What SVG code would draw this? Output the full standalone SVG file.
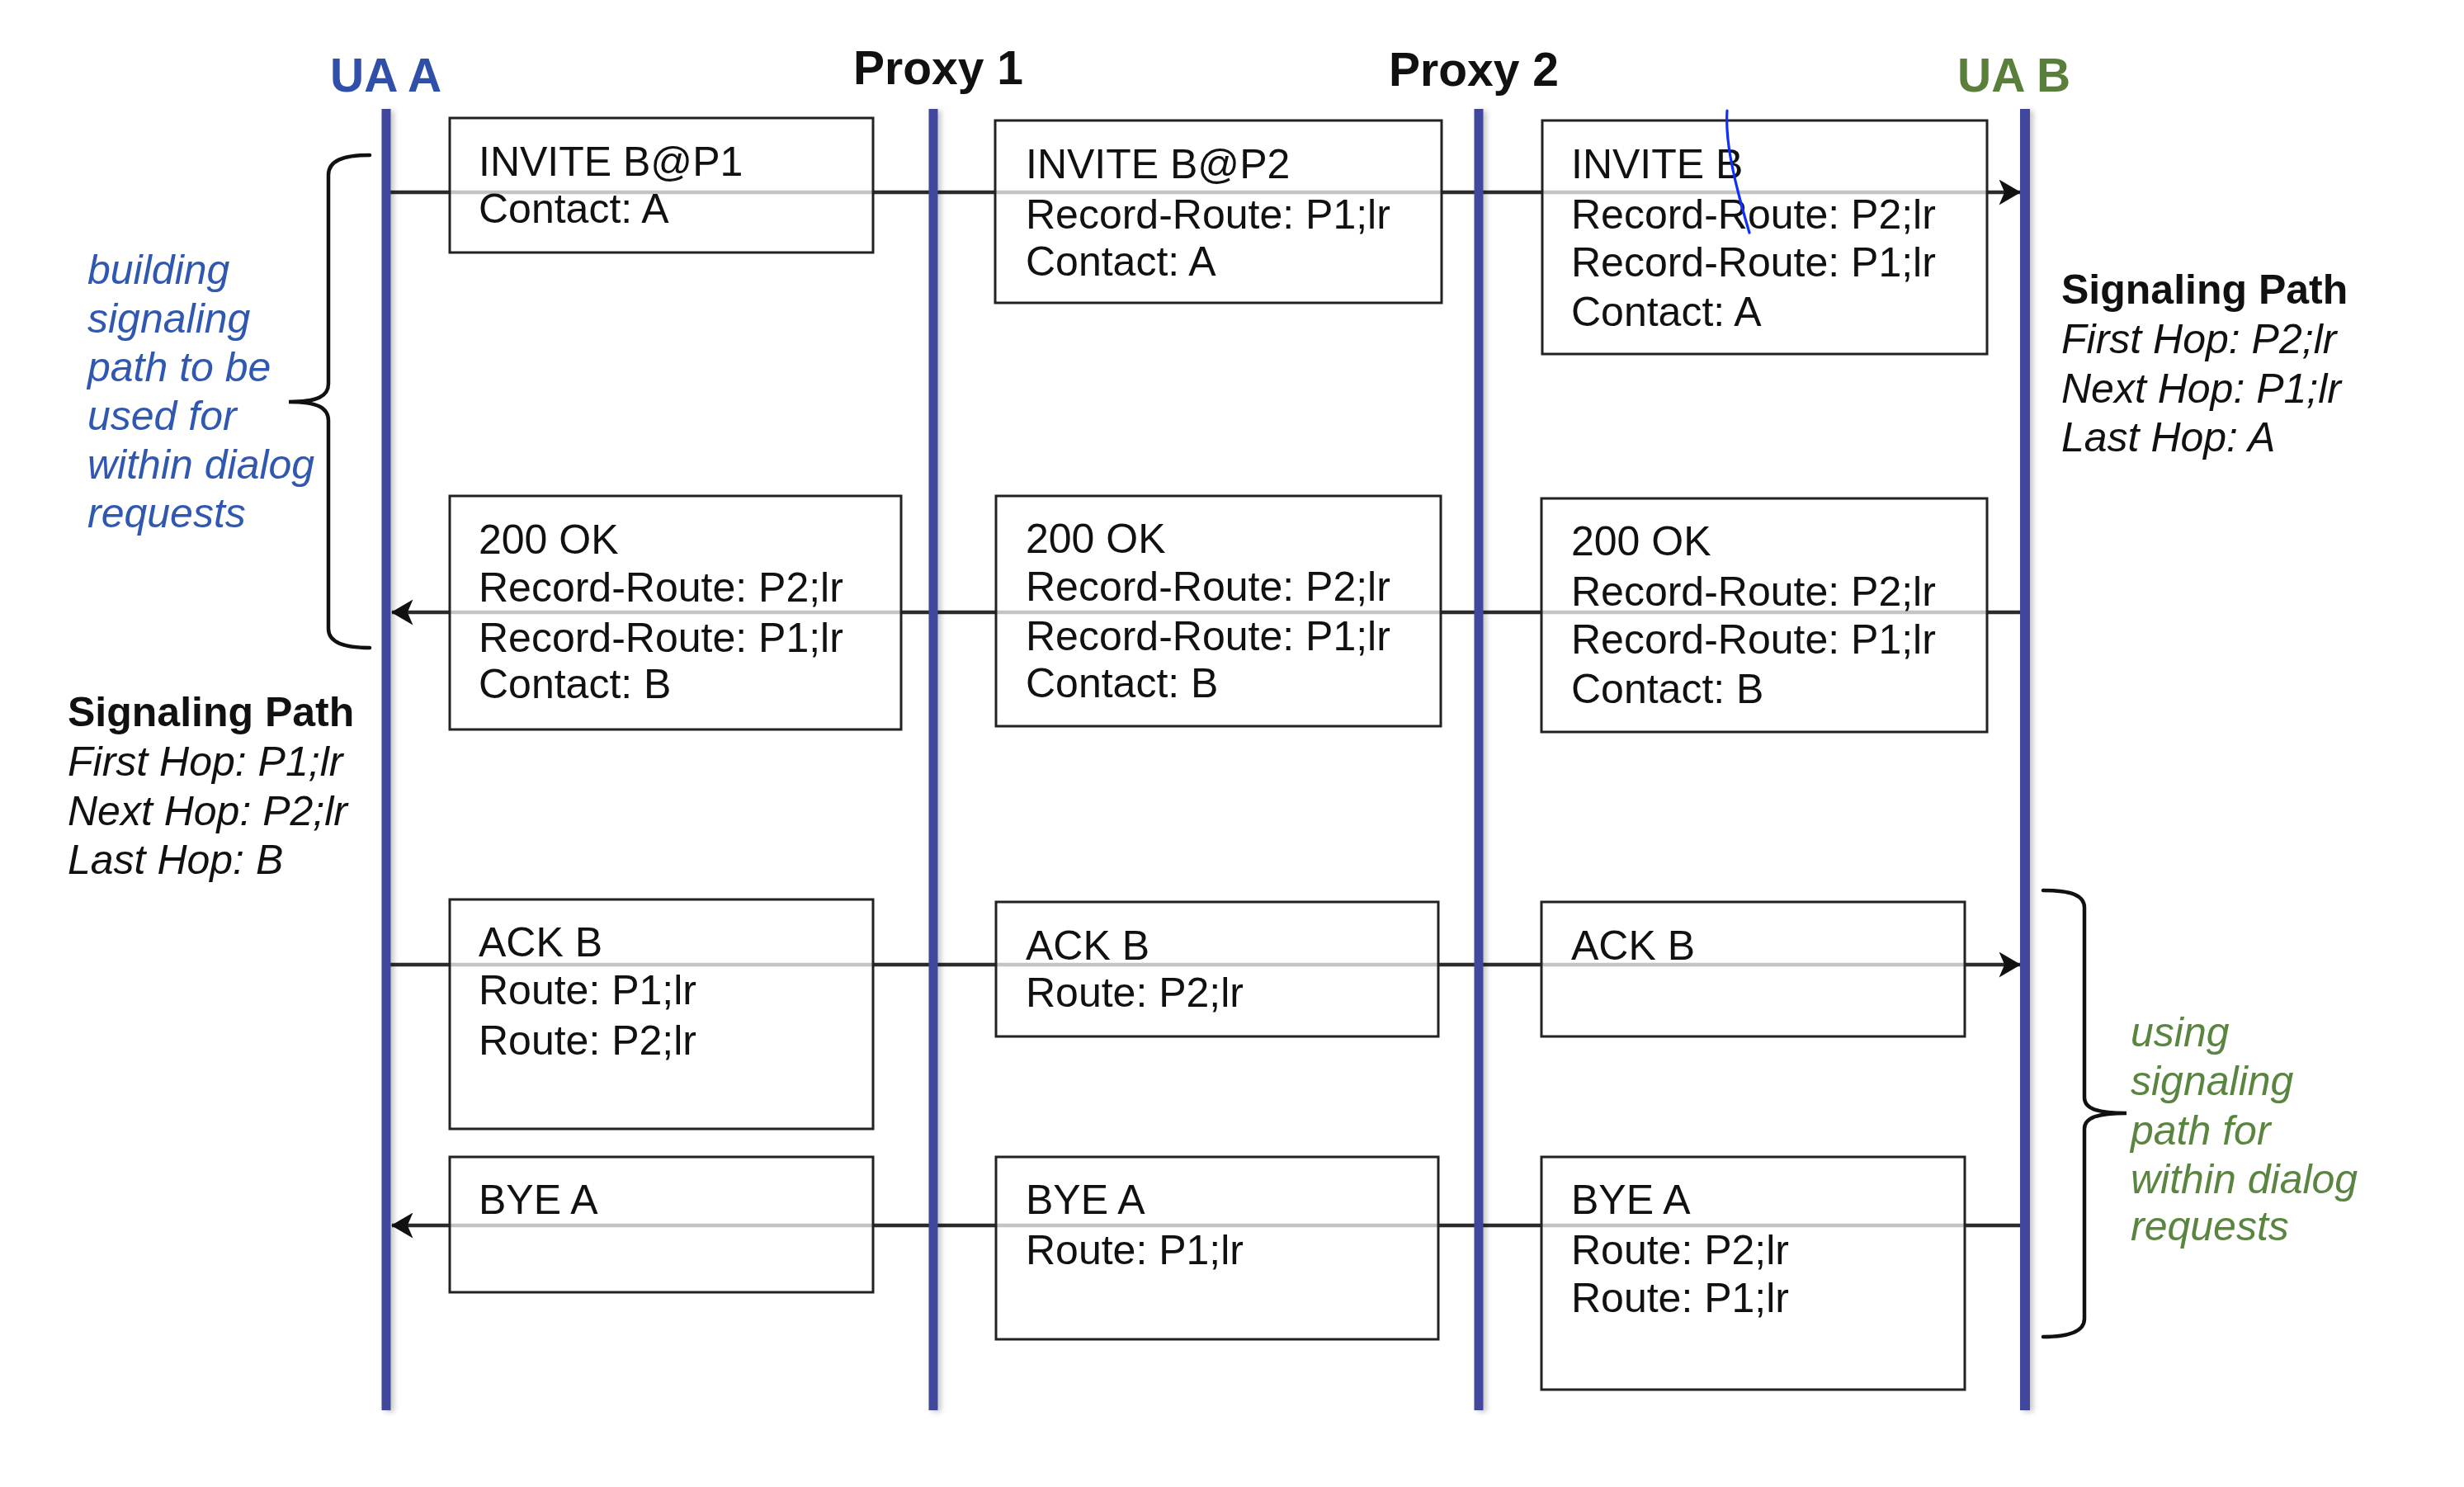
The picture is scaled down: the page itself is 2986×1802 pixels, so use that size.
<svg xmlns="http://www.w3.org/2000/svg" width="2986" height="1802" viewBox="0 0 2986 1802">
<style>
  text { font-family: "Liberation Sans", Arial, Helvetica, sans-serif; }
  .t { font-size: 50px; fill: #111; }
  .title { font-size: 57px; font-weight: bold; }
  .life { fill: #3f479c; }
  .msg { stroke: #2b2b2b; stroke-width: 4.5; fill: none; }
  .box { fill: #fff; fill-opacity: 0.72; stroke: #222; stroke-width: 3; }
  .brace { stroke: #111; stroke-width: 4.5; fill: none; stroke-linecap: round; }
  .note { font-size: 50px; font-style: italic; }
  .hdr { font-size: 50px; font-weight: bold; fill: #111; }
  .hop { font-size: 50px; font-style: italic; fill: #111; }
</style>
<defs>
  <marker id="ah" markerUnits="userSpaceOnUse" viewBox="0 0 24 28" refX="23" refY="14" markerWidth="27" markerHeight="31" orient="auto">
    <path d="M0,0 L24,14 L0,28 L6,14 Z" fill="#111"/>
  </marker>
  <filter id="sh" filterUnits="userSpaceOnUse" x="0" y="0" width="2986" height="1802">
    <feDropShadow dx="4" dy="2" stdDeviation="3" flood-color="#000" flood-opacity="0.22"/>
  </filter>
</defs>
<rect width="2986" height="1802" fill="#fff"/>

<g id="connectors">
  <line class="msg" x1="468" y1="233" x2="2448" y2="233" marker-end="url(#ah)"/>
  <line class="msg" x1="2454" y1="742" x2="475" y2="742" marker-end="url(#ah)"/>
  <line class="msg" x1="468" y1="1169" x2="2448" y2="1169" marker-end="url(#ah)"/>
  <line class="msg" x1="2454" y1="1485" x2="475" y2="1485" marker-end="url(#ah)"/>
</g>

<g id="ua-a">
  <rect class="life" x="462.5" y="132" width="11" height="1577" filter="url(#sh)"/>
  <text class="title" x="400" y="111" fill="#2f4fa8">UA A</text>
</g>
<g id="proxy-1">
  <rect class="life" x="1125.5" y="132" width="11" height="1577" filter="url(#sh)"/>
  <text class="title" x="1034" y="102" fill="#111">Proxy 1</text>
</g>
<g id="proxy-2">
  <rect class="life" x="1786.5" y="132" width="11" height="1577" filter="url(#sh)"/>
  <text class="title" x="1683" y="104" fill="#111">Proxy 2</text>
</g>
<g id="ua-b">
  <rect class="life" x="2448" y="132" width="12" height="1577" filter="url(#sh)"/>
  <text class="title" x="2372" y="111" fill="#5a7f3a">UA B</text>
</g>

<g id="invite-1">
  <rect class="box" x="545" y="143" width="513" height="163"/>
  <text class="t" x="580" y="213">INVITE B@P1</text>
  <text class="t" x="580" y="270">Contact: A</text>
</g>
<g id="invite-2">
  <rect class="box" x="1206" y="146" width="541" height="221"/>
  <text class="t" x="1243" y="216">INVITE B@P2</text>
  <text class="t" x="1243" y="277">Record-Route: P1;lr</text>
  <text class="t" x="1243" y="334">Contact: A</text>
</g>
<g id="invite-3">
  <rect class="box" x="1869" y="146" width="539" height="283"/>
  <text class="t" x="1904" y="216">INVITE B</text>
  <text class="t" x="1904" y="277">Record-Route: P2;lr</text>
  <text class="t" x="1904" y="335">Record-Route: P1;lr</text>
  <text class="t" x="1904" y="395">Contact: A</text>
</g>

<g id="ok-1">
  <rect class="box" x="545" y="601" width="547" height="283"/>
  <text class="t" x="580" y="671">200 OK</text>
  <text class="t" x="580" y="729">Record-Route: P2;lr</text>
  <text class="t" x="580" y="790">Record-Route: P1;lr</text>
  <text class="t" x="580" y="846">Contact: B</text>
</g>
<g id="ok-2">
  <rect class="box" x="1207" y="601" width="539" height="279"/>
  <text class="t" x="1243" y="670">200 OK</text>
  <text class="t" x="1243" y="728">Record-Route: P2;lr</text>
  <text class="t" x="1243" y="788">Record-Route: P1;lr</text>
  <text class="t" x="1243" y="845">Contact: B</text>
</g>
<g id="ok-3">
  <rect class="box" x="1868" y="604" width="540" height="283"/>
  <text class="t" x="1904" y="673">200 OK</text>
  <text class="t" x="1904" y="734">Record-Route: P2;lr</text>
  <text class="t" x="1904" y="792">Record-Route: P1;lr</text>
  <text class="t" x="1904" y="852">Contact: B</text>
</g>

<g id="ack-1">
  <rect class="box" x="545" y="1090" width="513" height="278"/>
  <text class="t" x="580" y="1159">ACK B</text>
  <text class="t" x="580" y="1217">Route: P1;lr</text>
  <text class="t" x="580" y="1278">Route: P2;lr</text>
</g>
<g id="ack-2">
  <rect class="box" x="1207" y="1093" width="536" height="163"/>
  <text class="t" x="1243" y="1163">ACK B</text>
  <text class="t" x="1243" y="1220">Route: P2;lr</text>
</g>
<g id="ack-3">
  <rect class="box" x="1868" y="1093" width="513" height="163"/>
  <text class="t" x="1904" y="1163">ACK B</text>
</g>

<g id="bye-1">
  <rect class="box" x="545" y="1402" width="513" height="164"/>
  <text class="t" x="580" y="1471">BYE A</text>
</g>
<g id="bye-2">
  <rect class="box" x="1207" y="1402" width="536" height="221"/>
  <text class="t" x="1243" y="1471">BYE A</text>
  <text class="t" x="1243" y="1532">Route: P1;lr</text>
</g>
<g id="bye-3">
  <rect class="box" x="1868" y="1402" width="513" height="282"/>
  <text class="t" x="1904" y="1471">BYE A</text>
  <text class="t" x="1904" y="1532">Route: P2;lr</text>
  <text class="t" x="1904" y="1590">Route: P1;lr</text>
</g>

<g id="building-note">
  <path class="brace" d="M448,188 C415,188 398,195 398,212 L398,465 C398,480 385,487 350,487 C385,487 398,494 398,510 L398,762 C398,778 415,785 448,785"/>
  <text class="note" fill="#3058b0">
    <tspan x="106" y="344">building</tspan>
    <tspan x="106" y="403">signaling</tspan>
    <tspan x="106" y="462">path to be</tspan>
    <tspan x="106" y="521">used for</tspan>
    <tspan x="106" y="580">within dialog</tspan>
    <tspan x="106" y="639">requests</tspan>
  </text>
</g>

<g id="path-a">
  <text class="hdr" x="82" y="880">Signaling Path</text>
  <text class="hop" x="82" y="940">First Hop: P1;lr</text>
  <text class="hop" x="82" y="1000">Next Hop: P2;lr</text>
  <text class="hop" x="82" y="1059">Last Hop: B</text>
</g>

<g id="path-b">
  <text class="hdr" x="2498" y="368">Signaling Path</text>
  <text class="hop" x="2498" y="428">First Hop: P2;lr</text>
  <text class="hop" x="2498" y="488">Next Hop: P1;lr</text>
  <text class="hop" x="2498" y="547">Last Hop: A</text>
</g>

<g id="using-note">
  <path class="brace" d="M2476,1079 C2510,1079 2526,1085 2526,1100 L2526,1330 C2526,1343 2540,1349 2577,1349 C2540,1349 2526,1355 2526,1368 L2526,1598 C2526,1613 2510,1620 2476,1620"/>
  <text class="note" fill="#5a8540">
    <tspan x="2582" y="1268">using</tspan>
    <tspan x="2582" y="1327">signaling</tspan>
    <tspan x="2582" y="1387">path for</tspan>
    <tspan x="2582" y="1446">within dialog</tspan>
    <tspan x="2582" y="1503">requests</tspan>
  </text>
</g>

<path d="M2093,134 C2091,165 2097,205 2120,282" stroke="#0f2eff" stroke-width="3.2" fill="none" stroke-linecap="round"/>
</svg>
